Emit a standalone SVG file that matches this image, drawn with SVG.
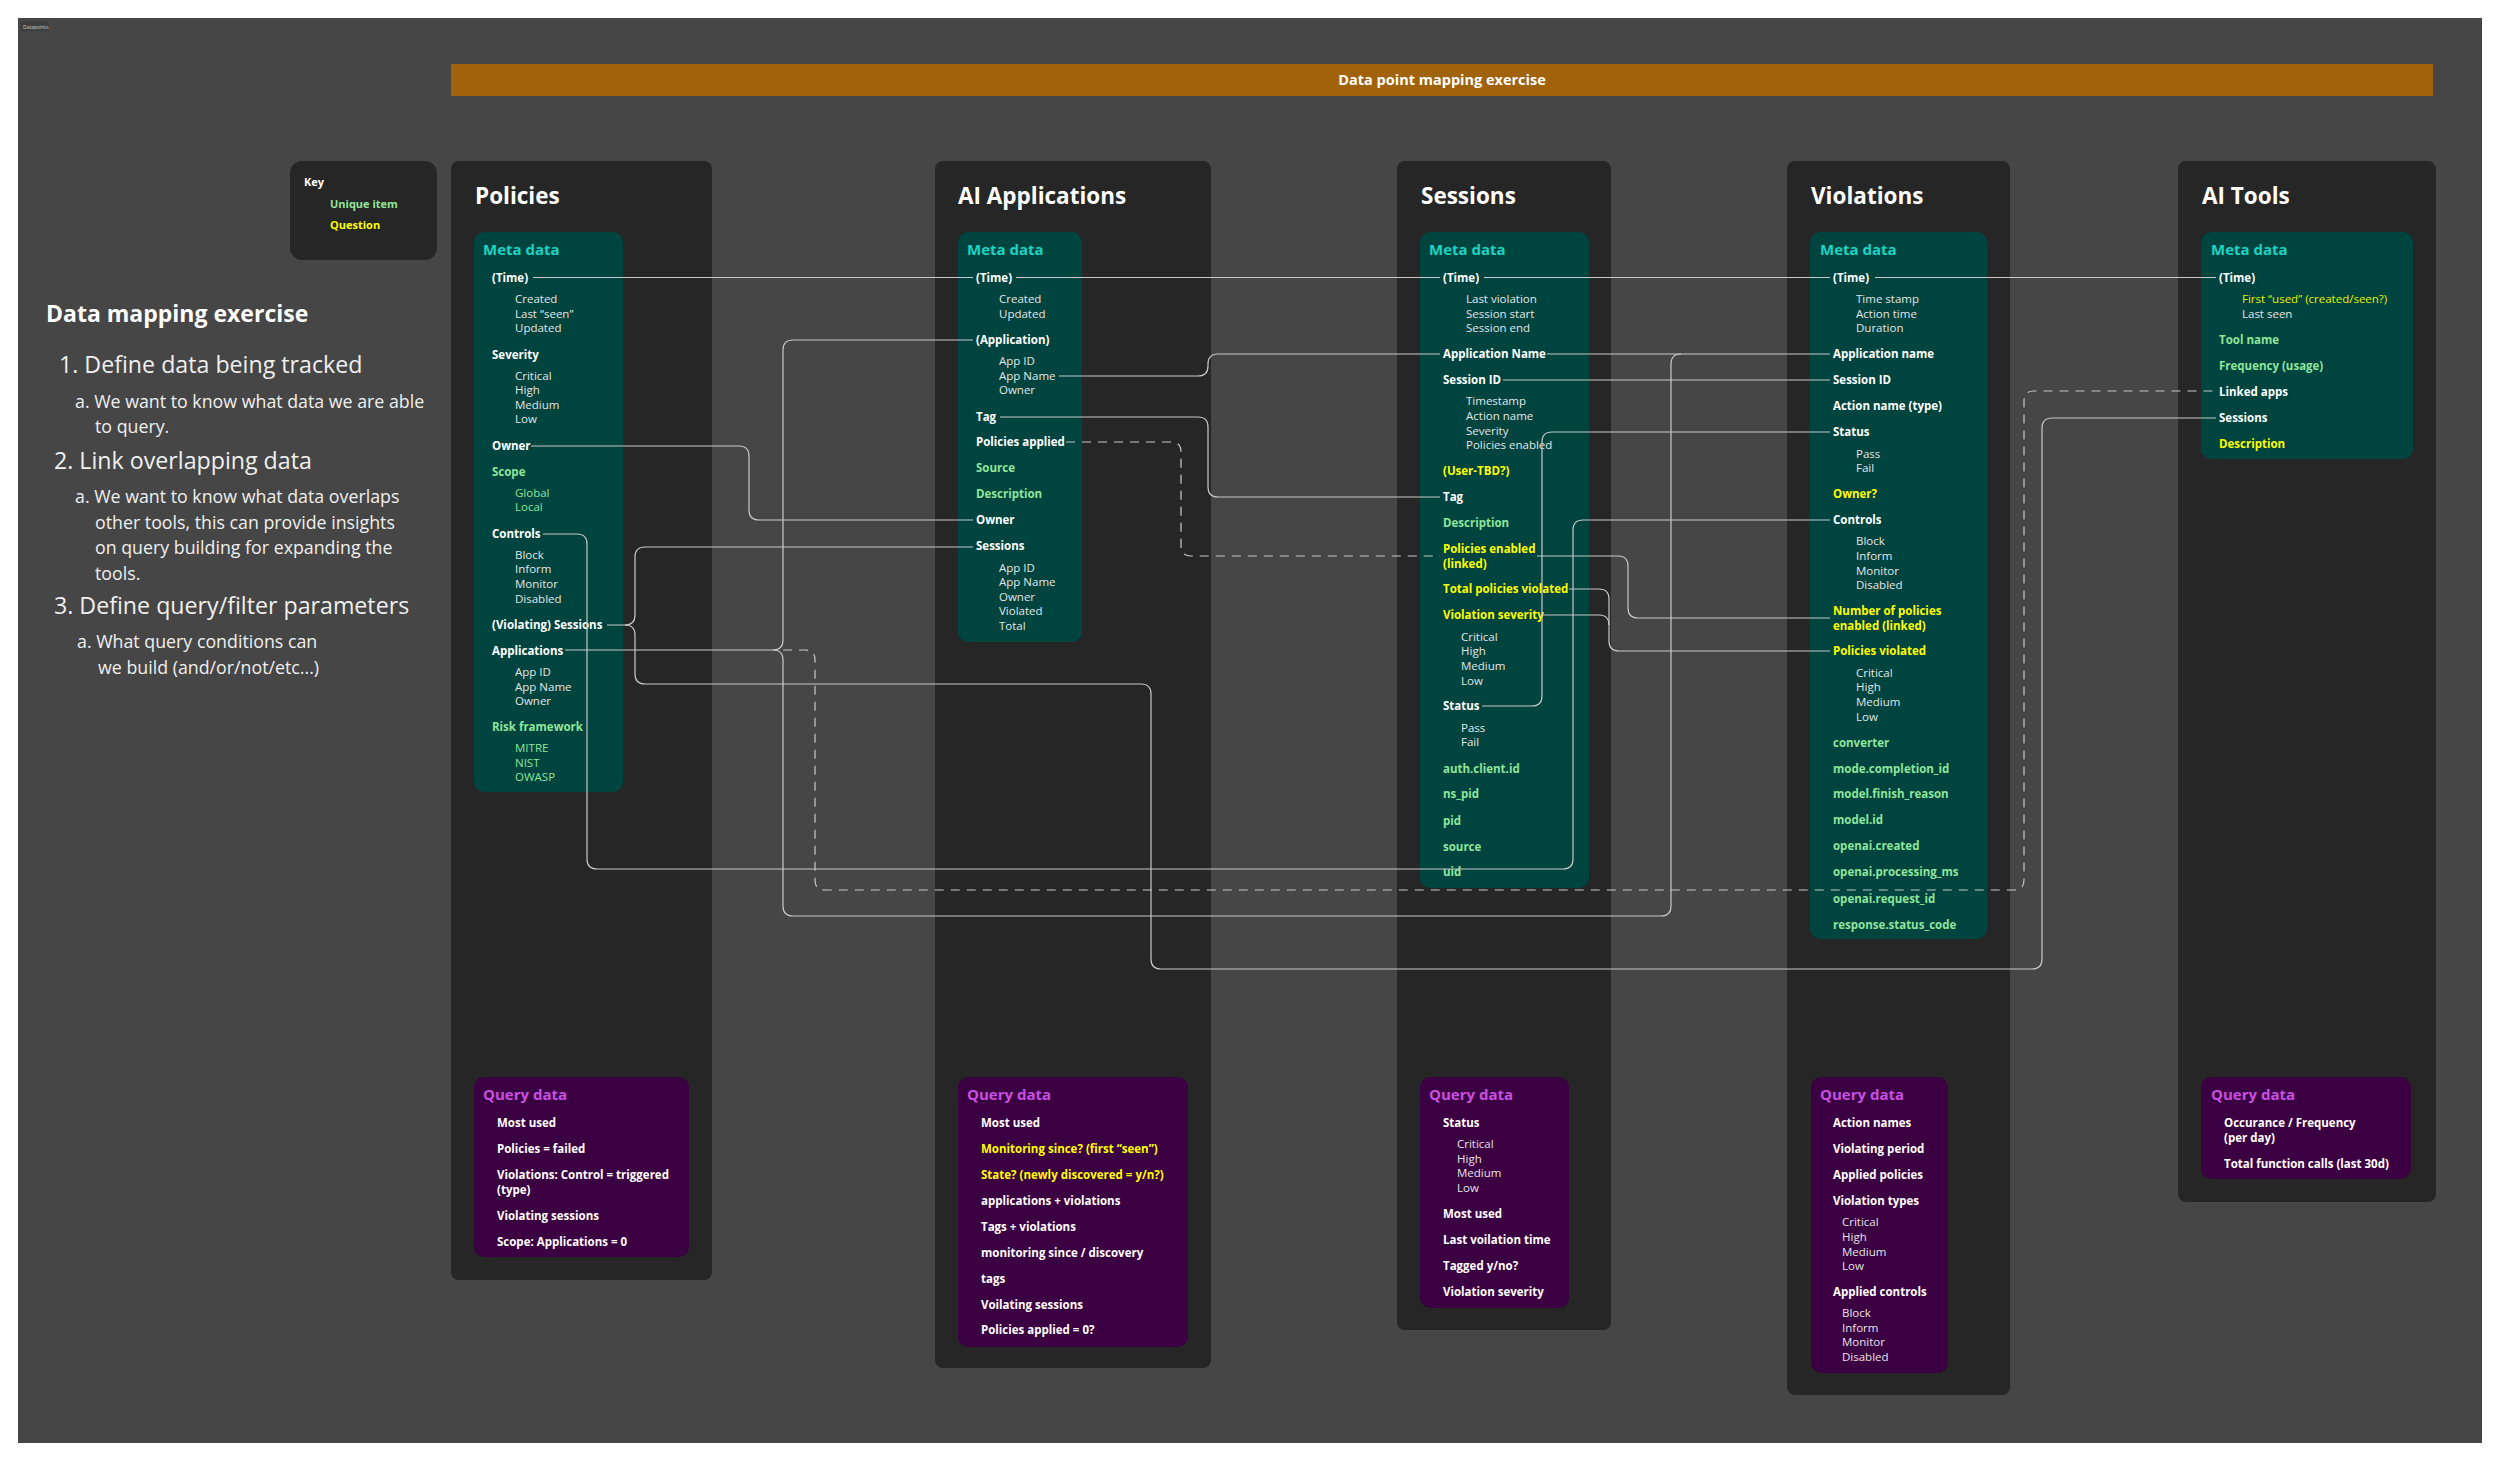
<svg xmlns="http://www.w3.org/2000/svg" width="2500" height="1460" viewBox="0 0 2500 1460">
<style>
text{font-family:"Open Sans","Liberation Sans",sans-serif;}
.panel{fill:#262626;}
.meta{fill:#00443F;}
.query{fill:#3B0042;}
.t{font-size:22.5px;font-weight:700;fill:#FFFFFF;}
.md{font-size:15px;font-weight:700;fill:#1DD3C2;}
.qd{font-size:15px;font-weight:700;fill:#C94FE0;}
.h{font-size:11.5px;font-weight:700;fill:#FFFFFF;}
.s{font-size:11.5px;font-weight:400;fill:#E6E6E6;}
.g{fill:#8FE59A;}
.y{fill:#FFFF00;}
.ys{fill:#E8F000;}
.lt{fill:#F0F0F0;}
.big{font-size:23.2px;font-weight:400;}
.mid{font-size:17.8px;font-weight:400;}
.ln{fill:none;stroke:#C8C8C8;stroke-width:1.2;}
.dash{stroke-dasharray:9 7;}
</style>
<rect x="0" y="0" width="2500" height="1460" fill="#FFFFFF"/>
<rect x="18" y="18" width="2464" height="1425" fill="#464646"/>
<g id="frame-label">
<rect x="20" y="21" width="30" height="11" fill="#3E3E3E" stroke="#555" stroke-width="0.5"/>
<text x="23" y="29" style="font-size:5px;fill:#CCCCCC">Datapoints</text>
</g>
<g id="banner">
<rect x="451" y="64" width="1982" height="32" fill="#A0620A"/>
<text x="1442" y="85" text-anchor="middle" style="font-size:14.5px;font-weight:700;fill:#FFFFFF">Data point mapping exercise</text>
</g>
<g id="key">
<rect x="290" y="161" width="147" height="99" rx="12" fill="#262626"/>
<text x="304" y="186" class="h" style="font-size:11px">Key</text>
<text x="330" y="208" class="h g" style="font-size:11px">Unique item</text>
<text x="330" y="229" class="h y" style="font-size:11px">Question</text>
</g>
<g id="instructions" class="lt">
<text x="46" y="322" style="font-size:23px;font-weight:700;fill:#FFFFFF">Data mapping exercise</text>
<text x="59" y="373" class="big lt">1. Define data being tracked</text>
<text x="75" y="408" class="mid lt">a. We want to know what data we are able</text>
<text x="95" y="433" class="mid lt">to query.</text>
<text x="54" y="469" class="big lt">2. Link overlapping data</text>
<text x="75" y="503" class="mid lt">a. We want to know what data overlaps</text>
<text x="95" y="529" class="mid lt">other tools, this can provide insights</text>
<text x="95" y="554" class="mid lt">on query building for expanding the</text>
<text x="95" y="580" class="mid lt">tools.</text>
<text x="54" y="614" class="big lt">3. Define query/filter parameters</text>
<text x="77" y="648" class="mid lt">a. What query conditions can</text>
<text x="98" y="674" class="mid lt">we build (and/or/not/etc...)</text>
</g>

<g id="policies">
<rect x="451" y="161" width="261" height="1119" rx="8" class="panel"/>
<text x="475" y="204" class="t">Policies</text>
<rect x="474" y="232" width="149" height="560" rx="10" class="meta"/>
<text x="483" y="255" class="md">Meta data</text>
<text x="492" y="282" class="h">(Time)</text>
<text x="515" y="303" class="s">Created</text>
<text x="515" y="318" class="s">Last “seen”</text>
<text x="515" y="332" class="s">Updated</text>
<text x="492" y="359" class="h">Severity</text>
<text x="515" y="380" class="s">Critical</text>
<text x="515" y="394" class="s">High</text>
<text x="515" y="409" class="s">Medium</text>
<text x="515" y="423" class="s">Low</text>
<text x="492" y="450" class="h">Owner</text>
<text x="492" y="476" class="h g">Scope</text>
<text x="515" y="497" class="s g">Global</text>
<text x="515" y="511" class="s g">Local</text>
<text x="492" y="538" class="h">Controls</text>
<text x="515" y="559" class="s">Block</text>
<text x="515" y="573" class="s">Inform</text>
<text x="515" y="588" class="s">Monitor</text>
<text x="515" y="603" class="s">Disabled</text>
<text x="492" y="629" class="h">(Violating) Sessions</text>
<text x="492" y="655" class="h">Applications</text>
<text x="515" y="676" class="s">App ID</text>
<text x="515" y="691" class="s">App Name</text>
<text x="515" y="705" class="s">Owner</text>
<text x="492" y="731" class="h g">Risk framework</text>
<text x="515" y="752" class="s g">MITRE</text>
<text x="515" y="767" class="s g">NIST</text>
<text x="515" y="781" class="s g">OWASP</text>
<rect x="474" y="1077" width="215" height="180" rx="10" class="query"/>
<text x="483" y="1100" class="qd">Query data</text>
<text x="497" y="1127" class="h">Most used</text>
<text x="497" y="1153" class="h">Policies = failed</text>
<text x="497" y="1179" class="h">Violations: Control = triggered</text>
<text x="497" y="1194" class="h">(type)</text>
<text x="497" y="1220" class="h">Violating sessions</text>
<text x="497" y="1246" class="h">Scope: Applications = 0</text>
</g>

<g id="ai-applications">
<rect x="935" y="161" width="276" height="1207" rx="8" class="panel"/>
<text x="958" y="204" class="t">AI Applications</text>
<rect x="958" y="232" width="124" height="410" rx="10" class="meta"/>
<text x="967" y="255" class="md">Meta data</text>
<text x="976" y="282" class="h">(Time)</text>
<text x="999" y="303" class="s">Created</text>
<text x="999" y="318" class="s">Updated</text>
<text x="976" y="344" class="h">(Application)</text>
<text x="999" y="365" class="s">App ID</text>
<text x="999" y="380" class="s">App Name</text>
<text x="999" y="394" class="s">Owner</text>
<text x="976" y="421" class="h">Tag</text>
<text x="976" y="446" class="h">Policies applied</text>
<text x="976" y="472" class="h g">Source</text>
<text x="976" y="498" class="h g">Description</text>
<text x="976" y="524" class="h">Owner</text>
<text x="976" y="550" class="h">Sessions</text>
<text x="999" y="572" class="s">App ID</text>
<text x="999" y="586" class="s">App Name</text>
<text x="999" y="601" class="s">Owner</text>
<text x="999" y="615" class="s">Violated</text>
<text x="999" y="630" class="s">Total</text>
<rect x="958" y="1077" width="230" height="270" rx="10" class="query"/>
<text x="967" y="1100" class="qd">Query data</text>
<text x="981" y="1127" class="h">Most used</text>
<text x="981" y="1153" class="h y">Monitoring since? (first “seen”)</text>
<text x="981" y="1179" class="h y">State? (newly discovered = y/n?)</text>
<text x="981" y="1205" class="h">applications + violations</text>
<text x="981" y="1231" class="h">Tags + violations</text>
<text x="981" y="1257" class="h">monitoring since / discovery</text>
<text x="981" y="1283" class="h">tags</text>
<text x="981" y="1309" class="h">Voilating sessions</text>
<text x="981" y="1334" class="h">Policies applied = 0?</text>
</g>

<g id="sessions">
<rect x="1397" y="161" width="214" height="1169" rx="8" class="panel"/>
<text x="1421" y="204" class="t">Sessions</text>
<rect x="1420" y="232" width="169" height="656" rx="10" class="meta"/>
<text x="1429" y="255" class="md">Meta data</text>
<text x="1443" y="282" class="h">(Time)</text>
<text x="1466" y="303" class="s">Last violation</text>
<text x="1466" y="318" class="s">Session start</text>
<text x="1466" y="332" class="s">Session end</text>
<text x="1443" y="358" class="h">Application Name</text>
<text x="1443" y="384" class="h">Session ID</text>
<text x="1466" y="405" class="s">Timestamp</text>
<text x="1466" y="420" class="s">Action name</text>
<text x="1466" y="435" class="s">Severity</text>
<text x="1466" y="449" class="s">Policies enabled</text>
<text x="1443" y="475" class="h y">(User-TBD?)</text>
<text x="1443" y="501" class="h">Tag</text>
<text x="1443" y="527" class="h g">Description</text>
<text x="1443" y="553" class="h y">Policies enabled</text>
<text x="1443" y="568" class="h y">(linked)</text>
<text x="1443" y="593" class="h y">Total policies violated</text>
<text x="1443" y="619" class="h y">Violation severity</text>
<text x="1461" y="641" class="s">Critical</text>
<text x="1461" y="655" class="s">High</text>
<text x="1461" y="670" class="s">Medium</text>
<text x="1461" y="685" class="s">Low</text>
<text x="1443" y="710" class="h">Status</text>
<text x="1461" y="732" class="s">Pass</text>
<text x="1461" y="746" class="s">Fail</text>
<text x="1443" y="773" class="h g">auth.client.id</text>
<text x="1443" y="798" class="h g">ns_pid</text>
<text x="1443" y="825" class="h g">pid</text>
<text x="1443" y="851" class="h g">source</text>
<text x="1443" y="876" class="h g">uid</text>
<rect x="1420" y="1077" width="149" height="231" rx="10" class="query"/>
<text x="1429" y="1100" class="qd">Query data</text>
<text x="1443" y="1127" class="h">Status</text>
<text x="1457" y="1148" class="s">Critical</text>
<text x="1457" y="1163" class="s">High</text>
<text x="1457" y="1177" class="s">Medium</text>
<text x="1457" y="1192" class="s">Low</text>
<text x="1443" y="1218" class="h">Most used</text>
<text x="1443" y="1244" class="h">Last voilation time</text>
<text x="1443" y="1270" class="h">Tagged y/no?</text>
<text x="1443" y="1296" class="h">Violation severity</text>
</g>

<g id="violations">
<rect x="1787" y="161" width="223" height="1234" rx="8" class="panel"/>
<text x="1811" y="204" class="t">Violations</text>
<rect x="1810" y="232" width="177" height="707" rx="10" class="meta"/>
<text x="1820" y="255" class="md">Meta data</text>
<text x="1833" y="282" class="h">(Time)</text>
<text x="1856" y="303" class="s">Time stamp</text>
<text x="1856" y="318" class="s">Action time</text>
<text x="1856" y="332" class="s">Duration</text>
<text x="1833" y="358" class="h">Application name</text>
<text x="1833" y="384" class="h">Session ID</text>
<text x="1833" y="410" class="h">Action name (type)</text>
<text x="1833" y="436" class="h">Status</text>
<text x="1856" y="458" class="s">Pass</text>
<text x="1856" y="472" class="s">Fail</text>
<text x="1833" y="498" class="h y">Owner?</text>
<text x="1833" y="524" class="h">Controls</text>
<text x="1856" y="545" class="s">Block</text>
<text x="1856" y="560" class="s">Inform</text>
<text x="1856" y="575" class="s">Monitor</text>
<text x="1856" y="589" class="s">Disabled</text>
<text x="1833" y="615" class="h y">Number of policies</text>
<text x="1833" y="630" class="h y">enabled (linked)</text>
<text x="1833" y="655" class="h y">Policies violated</text>
<text x="1856" y="677" class="s">Critical</text>
<text x="1856" y="691" class="s">High</text>
<text x="1856" y="706" class="s">Medium</text>
<text x="1856" y="721" class="s">Low</text>
<text x="1833" y="747" class="h g">converter</text>
<text x="1833" y="773" class="h g">mode.completion_id</text>
<text x="1833" y="798" class="h g">model.finish_reason</text>
<text x="1833" y="824" class="h g">model.id</text>
<text x="1833" y="850" class="h g">openai.created</text>
<text x="1833" y="876" class="h g">openai.processing_ms</text>
<text x="1833" y="903" class="h g">openai.request_id</text>
<text x="1833" y="929" class="h g">response.status_code</text>
<rect x="1811" y="1077" width="137" height="296" rx="10" class="query"/>
<text x="1820" y="1100" class="qd">Query data</text>
<text x="1833" y="1127" class="h">Action names</text>
<text x="1833" y="1153" class="h">Violating period</text>
<text x="1833" y="1179" class="h">Applied policies</text>
<text x="1833" y="1205" class="h">Violation types</text>
<text x="1842" y="1226" class="s">Critical</text>
<text x="1842" y="1241" class="s">High</text>
<text x="1842" y="1256" class="s">Medium</text>
<text x="1842" y="1270" class="s">Low</text>
<text x="1833" y="1296" class="h">Applied controls</text>
<text x="1842" y="1317" class="s">Block</text>
<text x="1842" y="1332" class="s">Inform</text>
<text x="1842" y="1346" class="s">Monitor</text>
<text x="1842" y="1361" class="s">Disabled</text>
</g>

<g id="ai-tools">
<rect x="2178" y="161" width="258" height="1041" rx="8" class="panel"/>
<text x="2202" y="204" class="t">AI Tools</text>
<rect x="2201" y="232" width="212" height="227" rx="10" class="meta"/>
<text x="2211" y="255" class="md">Meta data</text>
<text x="2219" y="282" class="h">(Time)</text>
<text x="2242" y="303" class="s ys">First “used” (created/seen?)</text>
<text x="2242" y="318" class="s">Last seen</text>
<text x="2219" y="344" class="h g">Tool name</text>
<text x="2219" y="370" class="h g">Frequency (usage)</text>
<text x="2219" y="396" class="h">Linked apps</text>
<text x="2219" y="422" class="h">Sessions</text>
<text x="2219" y="448" class="h y">Description</text>
<rect x="2201" y="1077" width="210" height="102" rx="10" class="query"/>
<text x="2211" y="1100" class="qd">Query data</text>
<text x="2224" y="1127" class="h">Occurance / Frequency</text>
<text x="2224" y="1142" class="h">(per day)</text>
<text x="2224" y="1168" class="h">Total function calls (last 30d)</text>
</g>

<g id="connectors">
<path class="ln" d="M533 277.5 H973"/>
<path class="ln" d="M1016 277.5 H1440"/>
<path class="ln" d="M1484 277.5 H1830"/>
<path class="ln" d="M1875 277.5 H2216"/>
<path class="ln" d="M531 446 H739 Q749 446 749 456 V510 Q749 520 759 520 H973"/>
<path class="ln" d="M543 534 H577 Q587 534 587 544 V859 Q587 869 597 869 H1563 Q1573 869 1573 859 V530 Q1573 520 1583 520 H1830"/>
<path class="ln" d="M607 625 H625 Q635 625 635 615 V557 Q635 547 645 547 H973"/>
<path class="ln" d="M625 625 Q635 625 635 635 V674 Q635 684 645 684 H1141 Q1151 684 1151 694 V959 Q1151 969 1161 969 H2032 Q2042 969 2042 959 V428 Q2042 418 2052 418 H2216"/>
<path class="ln" d="M565 650 H773 Q783 650 783 640 V350 Q783 340 793 340 H973"/>
<path class="ln" d="M773 650 Q783 650 783 660 V906 Q783 916 793 916 H1661 Q1671 916 1671 906 V364 Q1671 354 1681 354"/>
<path class="ln dash" d="M783 650 H805 Q815 650 815 660 V880 Q815 890 825 890 H2014 Q2024 890 2024 880 V401 Q2024 391 2034 391 H2216"/>
<path class="ln" d="M1059 376 H1198 Q1208 376 1208 366 V364 Q1208 354 1218 354 H1440"/>
<path class="ln" d="M1000 417 H1198 Q1208 417 1208 427 V487 Q1208 497 1218 497 H1440"/>
<path class="ln dash" d="M1066 442 H1171 Q1181 442 1181 452 V546 Q1181 556 1191 556 H1440"/>
<path class="ln" d="M1547 354 H1830"/>
<path class="ln" d="M1503 380 H1830"/>
<path class="ln" d="M1482 706 H1532 Q1542 706 1542 696 V442 Q1542 432 1552 432 H1830"/>
<path class="ln" d="M1537 556 H1618 Q1628 556 1628 566 V608 Q1628 618 1638 618 H1830"/>
<path class="ln" d="M1569 589 H1599 Q1609 589 1609 599 V641 Q1609 651 1619 651 H1830"/>
<path class="ln" d="M1543 615 H1599 Q1609 615 1609 625"/>
</g>
</svg>
